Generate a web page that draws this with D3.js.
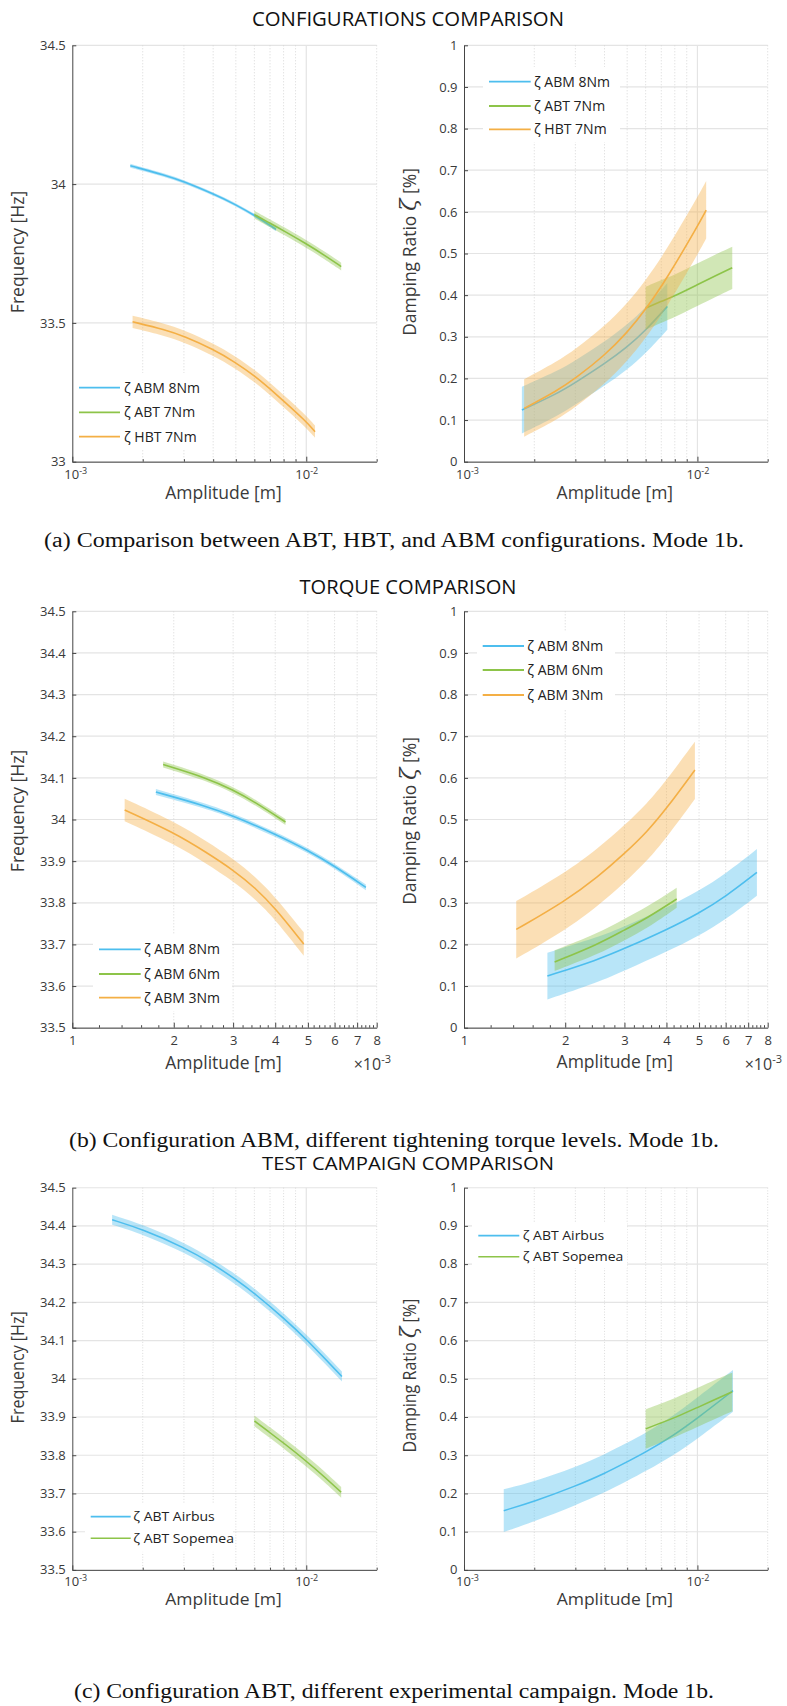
<!DOCTYPE html>
<html>
<head>
<meta charset="utf-8">
<script src="https://cdn.jsdelivr.net/npm/d3@7"></script>
<style>
  body { margin: 0; background: #fff; }
  svg { display: block; }
</style>
</head>
<body>
<script>
// values: amplitude [m], frequency [Hz], damping ratio [%]
const abm8Amp    = [1.77e-3, 2.5e-3, 3e-3, 4e-3, 5e-3, 6e-3, 7.43e-3]
const abm8Freq   = [34.066, 34.032, 34.009, 33.965, 33.926, 33.888, 33.837]
const abm8FreqLo = [34.059, 34.026, 34.003, 33.959, 33.920, 33.882, 33.830]
const abm8FreqHi = [34.073, 34.038, 34.015, 33.971, 33.932, 33.894, 33.844]
const abm8Damp   = [0.124, 0.163, 0.190, 0.235, 0.275, 0.315, 0.373]
const abm8DampLo = [0.068, 0.109, 0.137, 0.182, 0.221, 0.260, 0.317]
const abm8DampHi = [0.180, 0.217, 0.243, 0.288, 0.329, 0.370, 0.429]

const abt7Amp    = [6.0e-3, 7e-3, 8e-3, 1e-2, 1.2e-2, 1.41e-2]
const abt7Freq   = [33.890, 33.859, 33.832, 33.785, 33.743, 33.703]
const abt7FreqLo = [33.876, 33.845, 33.818, 33.771, 33.729, 33.689]
const abt7FreqHi = [33.904, 33.873, 33.846, 33.799, 33.757, 33.717]
const abt7Damp   = [0.369, 0.385, 0.398, 0.425, 0.447, 0.466]
const abt7DampLo = [0.317, 0.334, 0.347, 0.374, 0.396, 0.415]
const abt7DampHi = [0.420, 0.436, 0.449, 0.476, 0.498, 0.516]

const hbt7Amp    = [1.81e-3, 2.5e-3, 3e-3, 4e-3, 5e-3, 6e-3, 7.4e-3, 1e-2, 1.09e-2]
const hbt7Freq   = [33.504, 33.475, 33.452, 33.405, 33.357, 33.310, 33.245, 33.145, 33.108]
const hbt7FreqLo = [33.482, 33.453, 33.430, 33.383, 33.335, 33.288, 33.223, 33.123, 33.086]
const hbt7FreqHi = [33.526, 33.497, 33.474, 33.427, 33.379, 33.332, 33.267, 33.167, 33.130]
const hbt7Damp   = [0.128, 0.170, 0.200, 0.255, 0.310, 0.365, 0.440, 0.565, 0.604]
const hbt7DampLo = [0.060, 0.101, 0.131, 0.186, 0.241, 0.296, 0.371, 0.497, 0.536]
const hbt7DampHi = [0.198, 0.240, 0.270, 0.325, 0.380, 0.435, 0.510, 0.635, 0.674]

const abm6Amp    = [1.86e-3, 2.5e-3, 3e-3, 3.5e-3, 4.29e-3]
const abm6Freq   = [34.132, 34.100, 34.071, 34.041, 33.994]
const abm6FreqLo = [34.125, 34.093, 34.064, 34.034, 33.987]
const abm6FreqHi = [34.139, 34.107, 34.078, 34.048, 34.001]
const abm6Damp   = [0.158, 0.200, 0.235, 0.263, 0.309]
const abm6DampLo = [0.136, 0.176, 0.210, 0.238, 0.288]
const abm6DampHi = [0.186, 0.226, 0.262, 0.290, 0.336]

const abm3Amp    = [1.43e-3, 2e-3, 2.5e-3, 3e-3, 3.5e-3, 4e-3, 4.86e-3]
const abm3Freq   = [34.023, 33.969, 33.921, 33.879, 33.835, 33.787, 33.701]
const abm3FreqLo = [33.996, 33.942, 33.894, 33.852, 33.808, 33.760, 33.673]
const abm3FreqHi = [34.050, 33.996, 33.948, 33.906, 33.862, 33.814, 33.729]
const abm3Damp   = [0.236, 0.304, 0.362, 0.418, 0.470, 0.526, 0.619]
const abm3DampLo = [0.166, 0.234, 0.292, 0.348, 0.400, 0.456, 0.549]
const abm3DampHi = [0.304, 0.372, 0.430, 0.486, 0.538, 0.594, 0.687]

const airAmp     = [1.48e-3, 2e-3, 3e-3, 4e-3, 5e-3, 6e-3, 8e-3, 1e-2, 1.42e-2]
const airFreq    = [34.416, 34.391, 34.344, 34.300, 34.260, 34.224, 34.159, 34.104, 34.006]
const airFreqLo  = [34.403, 34.378, 34.331, 34.287, 34.247, 34.211, 34.146, 34.091, 33.993]
const airFreqHi  = [34.429, 34.404, 34.357, 34.313, 34.273, 34.237, 34.172, 34.117, 34.019]
const airDamp    = [0.155, 0.179, 0.219, 0.252, 0.283, 0.308, 0.354, 0.397, 0.469]
const airDampLo  = [0.099, 0.127, 0.169, 0.202, 0.233, 0.258, 0.302, 0.343, 0.414]
const airDampHi  = [0.211, 0.231, 0.269, 0.302, 0.333, 0.358, 0.406, 0.451, 0.523]

// ticks and labels
const freqTicksCoarse = [33, 33.5, 34, 34.5]
const freqTicksFine   = [33.5, 33.6, 33.7, 33.8, 33.9, 34, 34.1, 34.2, 34.3, 34.4, 34.5]
const dampTicks       = [0, 0.1, 0.2, 0.3, 0.4, 0.5, 0.6, 0.7, 0.8, 0.9, 1]
const decadeTicks     = [1e-3, 1e-2]
const decadeMinor     = [2e-3, 3e-3, 4e-3, 5e-3, 6e-3, 7e-3, 8e-3, 9e-3, 2e-2]
const mmTicks         = [1e-3, 2e-3, 3e-3, 4e-3, 5e-3, 6e-3, 7e-3, 8e-3]
const mmTickLabels    = ['1', '2', '3', '4', '5', '6', '7', '8']
const mmMinor         = [1.2e-3, 1.4e-3, 1.6e-3, 1.8e-3, 2.2e-3, 2.4e-3, 2.6e-3, 2.8e-3,
                         3.2e-3, 3.4e-3, 3.6e-3, 3.8e-3, 4.2e-3, 4.4e-3, 4.6e-3, 4.8e-3,
                         5.2e-3, 5.4e-3, 5.6e-3, 5.8e-3, 6.2e-3, 6.4e-3, 6.6e-3, 6.8e-3,
                         7.2e-3, 7.4e-3, 7.6e-3, 7.8e-3]

const titles   = ['CONFIGURATIONS COMPARISON', 'TORQUE COMPARISON', 'TEST CAMPAIGN COMPARISON']
const captions = ['(a) Comparison between ABT, HBT, and ABM configurations. Mode 1b.',
                  '(b) Configuration ABM, different tightening torque levels. Mode 1b.',
                  '(c) Configuration ABT, different experimental campaign. Mode 1b.']

const BLUE = '#4DBEEE', GREEN = '#8DC449', ORANGE = '#F4AF45'
const SANS = '"Open Sans", sans-serif'
const AXIS = '#454545'

const svg = d3.select('body').append('svg').attr('width', 787).attr('height', 1706)

function series(name, color, amp, val, lo, hi) {
  return {name, color, rows: amp.map((a, i) => ({a, v: val[i], lo: lo[i], hi: hi[i]}))}
}

const fmt = d3.format('~g')

function drawPanel(row, p) {
  const g = row.append('g')
  const x = d3.scaleLog().domain(p.xDomain).range([p.left, p.right])
  const y = d3.scaleLinear().domain(p.yDomain).range([p.bottom, p.top])

  // grid
  g.append('g').selectAll('line').data(p.yTicks).join('line')
      .attr('x1', p.left).attr('x2', p.right)
      .attr('y1', d => y(d)).attr('y2', d => y(d))
      .attr('stroke', '#e4e4e4').attr('stroke-width', 1.2)
  g.append('g').selectAll('line').data(p.gridMajor).join('line')
      .attr('x1', d => x(d)).attr('x2', d => x(d))
      .attr('y1', p.top).attr('y2', p.bottom)
      .attr('stroke', '#e4e4e4').attr('stroke-width', 1.2)
  g.append('g').selectAll('line').data(p.gridMinor).join('line')
      .attr('x1', d => x(d)).attr('x2', d => x(d))
      .attr('y1', p.top).attr('y2', p.bottom)
      .attr('stroke', '#d6d6d6').attr('stroke-dasharray', '1,2')

  // bands and lines
  const area = d3.area().x(d => x(d.a)).y0(d => y(d.lo)).y1(d => y(d.hi)).curve(d3.curveBasis)
  const line = d3.line().x(d => x(d.a)).y(d => y(d.v)).curve(d3.curveBasis)
  for (let s of p.series) {
    g.append('path').datum(s.rows).attr('d', area)
        .attr('fill', s.color).attr('fill-opacity', 0.4)
    g.append('path').datum(s.rows).attr('d', line)
        .attr('fill', 'none').attr('stroke', s.color).attr('stroke-width', 1.6)
  }

  // legend
  const lg = p.legend
  g.append('rect').attr('x', lg.box[0]).attr('y', lg.box[1])
      .attr('width', lg.box[2] - lg.box[0]).attr('height', lg.box[3] - lg.box[1])
      .attr('fill', '#fff')
  p.series.forEach((s, i) => {
    g.append('line').attr('x1', lg.x0).attr('x2', lg.x1).attr('y1', lg.ys[i]).attr('y2', lg.ys[i])
        .attr('stroke', s.color).attr('stroke-width', 1.8)
    g.append('text').attr('x', lg.tx).attr('y', lg.ys[i]).attr('dy', '0.35em')
        .attr('font-family', SANS).attr('font-size', 14).attr('fill', '#222')
        .text(s.name)
  })

  // axes
  const yAx = g.append('g').attr('transform', `translate(${p.left},0)`)
      .call(d3.axisLeft(y).tickValues(p.yTicks).tickSize(-4).tickSizeOuter(0).tickPadding(6.5).tickFormat(fmt))
  const xAx = g.append('g').attr('transform', `translate(0,${p.bottom})`)
      .call(d3.axisBottom(x).tickValues(p.xTicks).tickSize(-5).tickSizeOuter(0).tickPadding(8)
        .tickFormat((d, i) => p.xLabels ? p.xLabels[i] : '10'))
  const xMin = g.append('g').attr('transform', `translate(0,${p.bottom})`)
      .call(d3.axisBottom(x).tickValues(p.xMinor).tickSize(-2.5).tickSizeOuter(0).tickFormat(''))
  xMin.select('.domain').remove()

  for (let ax of [yAx, xAx, xMin]) {
    ax.attr('font-family', SANS).attr('font-size', 13)
    ax.selectAll('.domain, .tick line').attr('stroke', AXIS)
    ax.selectAll('.tick text').attr('fill', '#3a3a3a')
  }
  if (!p.xLabels) {
    xAx.selectAll('.tick text').each(function(d, i) {
      const t = d3.select(this)
      if (i === 0) t.attr('dx', 3)
      t.append('tspan').attr('dy', -5).attr('font-size', 9)
          .text(Math.round(Math.log10(d)))
    })
  } else {
    g.append('text').attr('x', p.right - 23).attr('y', p.bottom + 42)
        .attr('font-family', SANS).attr('font-size', 16).attr('fill', '#3a3a3a')
        .text('×10')
        .append('tspan').attr('dy', -7).attr('font-size', 11).text('-3')
  }

  // axis titles
  g.append('text').attr('x', (p.left + p.right) / 2 - 1).attr('y', p.xTitleY).attr('dy', '0.35em')
      .attr('text-anchor', 'middle').attr('font-family', SANS).attr('font-size', 17.5).attr('fill', '#3a3a3a')
      .text('Amplitude [m]')
  const yt = g.append('text').attr('text-anchor', 'middle')
      .attr('transform', `translate(${p.left - 54},${p.yTitleY}) rotate(-90)`).attr('dy', '0.35em')
      .attr('font-family', SANS).attr('font-size', 17.5).attr('fill', '#3a3a3a')
  if (p.kind === 'freq') {
    yt.text('Frequency [Hz]')
  } else {
    yt.append('tspan').text('Damping Ratio ')
    yt.append('tspan').attr('font-size', 23).attr('font-style', 'italic').attr('font-family', '"DejaVu Serif", serif').text('ζ')
    yt.append('tspan').text('  [%]')
  }
}

const L = {left: 72.3, right: 376.7}
const R = {left: 464, right: 767.7}
const axTop = 45.3, axBottom = 461.7
const box = {top: axTop, bottom: axBottom}

const rows = [
  svg.append('g'),
  svg.append('g').attr('transform', 'translate(0,566)'),
  svg.append('g').attr('transform', 'translate(0,1146.1) scale(1,0.918)')
]

const logPanel = {xDomain: [1e-3, 2e-2], xTicks: decadeTicks, xMinor: decadeMinor,
                  gridMajor: [1e-2], gridMinor: decadeMinor}
const mmPanel = {xDomain: [1e-3, 8e-3], xTicks: mmTicks, xLabels: mmTickLabels, xMinor: mmMinor,
                 gridMajor: [], gridMinor: mmTicks.slice(1)}

// row (a)
drawPanel(rows[0], {...L, ...box, ...logPanel, kind: 'freq', yDomain: [33, 34.5], yTicks: freqTicksCoarse,
  xTitleY: 493, yTitleY: 252,
  series: [series('ζ ABM 8Nm', BLUE, abm8Amp, abm8Freq, abm8FreqLo, abm8FreqHi),
           series('ζ ABT 7Nm', GREEN, abt7Amp, abt7Freq, abt7FreqLo, abt7FreqHi),
           series('ζ HBT 7Nm', ORANGE, hbt7Amp, hbt7Freq, hbt7FreqLo, hbt7FreqHi)],
  legend: {box: [75, 373, 205, 450], x0: 79, x1: 120, tx: 124, ys: [387.7, 412.3, 436.7]}})
drawPanel(rows[0], {...R, ...box, ...logPanel, kind: 'damp', yDomain: [0, 1], yTicks: dampTicks,
  xTitleY: 493, yTitleY: 252,
  series: [series('ζ ABM 8Nm', BLUE, abm8Amp, abm8Damp, abm8DampLo, abm8DampHi),
           series('ζ ABT 7Nm', GREEN, abt7Amp, abt7Damp, abt7DampLo, abt7DampHi),
           series('ζ HBT 7Nm', ORANGE, hbt7Amp, hbt7Damp, hbt7DampLo, hbt7DampHi)],
  legend: {box: [483, 67, 620, 142], x0: 489, x1: 530.7, tx: 534, ys: [81.7, 106, 129.3]}})

// row (b)
drawPanel(rows[1], {...L, ...box, ...mmPanel, kind: 'freq', yDomain: [33.5, 34.5], yTicks: freqTicksFine,
  xTitleY: 497, yTitleY: 245,
  series: [series('ζ ABM 8Nm', BLUE, abm8Amp, abm8Freq, abm8FreqLo, abm8FreqHi),
           series('ζ ABM 6Nm', GREEN, abm6Amp, abm6Freq, abm6FreqLo, abm6FreqHi),
           series('ζ ABM 3Nm', ORANGE, abm3Amp, abm3Freq, abm3FreqLo, abm3FreqHi)],
  legend: {box: [93, 369, 232, 445], x0: 99, x1: 140.7, tx: 144, ys: [383.3, 408, 431.7]}})
drawPanel(rows[1], {...R, ...box, ...mmPanel, kind: 'damp', yDomain: [0, 1], yTicks: dampTicks,
  xTitleY: 496, yTitleY: 255,
  series: [series('ζ ABM 8Nm', BLUE, abm8Amp, abm8Damp, abm8DampLo, abm8DampHi),
           series('ζ ABM 6Nm', GREEN, abm6Amp, abm6Damp, abm6DampLo, abm6DampHi),
           series('ζ ABM 3Nm', ORANGE, abm3Amp, abm3Damp, abm3DampLo, abm3DampHi)],
  legend: {box: [477, 65, 615, 144], x0: 482.7, x1: 524, tx: 527.3, ys: [80, 104, 129]}})

// row (c)
drawPanel(rows[2], {...L, ...box, ...logPanel, kind: 'freq', yDomain: [33.5, 34.5], yTicks: freqTicksFine,
  xTitleY: 494, yTitleY: 241,
  series: [series('ζ ABT Airbus', BLUE, airAmp, airFreq, airFreqLo, airFreqHi),
           series('ζ ABT Sopemea', GREEN, abt7Amp, abt7Freq, abt7FreqLo, abt7FreqHi)],
  legend: {box: [85, 389, 233, 442], x0: 90.7, x1: 130.7, tx: 133.3, ys: [403.7, 427.2]}})
drawPanel(rows[2], {...R, ...box, ...logPanel, kind: 'damp', yDomain: [0, 1], yTicks: dampTicks,
  xTitleY: 494, yTitleY: 250,
  series: [series('ζ ABT Airbus', BLUE, airAmp, airDamp, airDampLo, airDampHi),
           series('ζ ABT Sopemea', GREEN, abt7Amp, abt7Damp, abt7DampLo, abt7DampHi)],
  legend: {box: [472, 83, 627, 133], x0: 478.3, x1: 519.3, tx: 522.7, ys: [97.6, 120.5]}})

// row titles
const titleY = [18.5, 20.7, 18.5], titleW = [312, 217, 292]
rows.forEach((r, i) => {
  r.append('text').attr('x', 408).attr('y', titleY[i]).attr('dy', '0.35em')
      .attr('text-anchor', 'middle').attr('font-family', SANS).attr('font-size', 20).attr('fill', '#111')
      .attr('textLength', titleW[i]).attr('lengthAdjust', 'spacingAndGlyphs')
      .text(titles[i])
})

// captions
const capY = [540, 1140, 1691], capW = [700, 650, 640]
captions.forEach((c, i) => {
  svg.append('text').attr('x', 394).attr('y', capY[i]).attr('dy', '0.35em')
      .attr('text-anchor', 'middle').attr('font-family', '"Liberation Serif", serif').attr('font-size', 20)
      .attr('fill', '#111').attr('textLength', capW[i]).attr('lengthAdjust', 'spacingAndGlyphs')
      .text(c)
})
</script>
</body>
</html>
